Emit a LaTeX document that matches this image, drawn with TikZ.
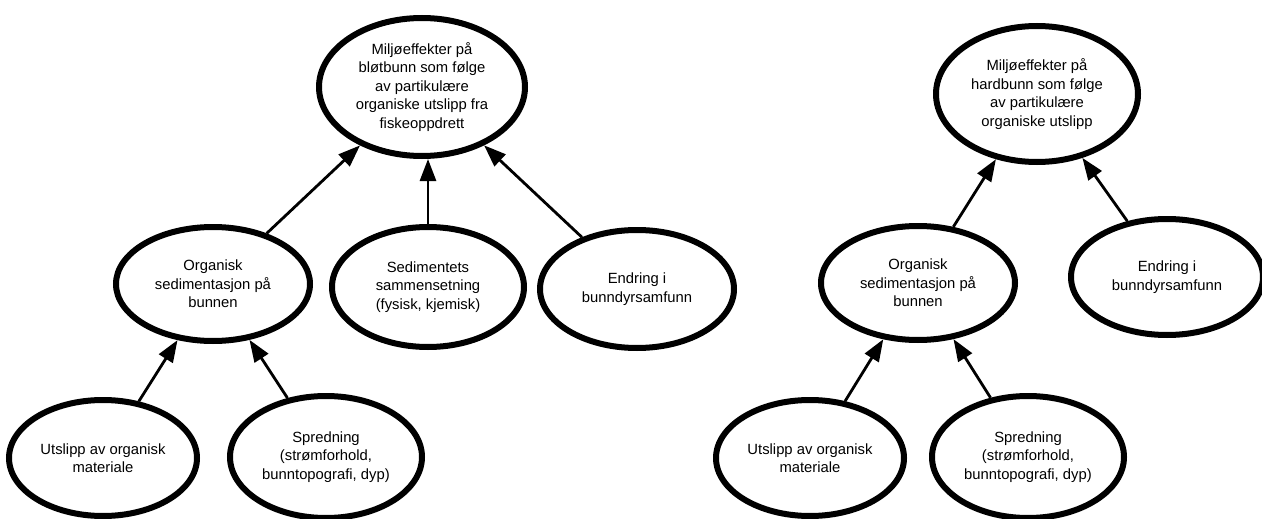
\documentclass[tikz,border=0pt]{standalone}
\usepackage{fontspec}
\setmainfont{Liberation Sans}
\usetikzlibrary{shapes.geometric,arrows.meta}

\begin{document}
\begin{tikzpicture}[x=1pt,y=-1pt,
 every node/.style={font=\fontsize{14.8}{18.5}\selectfont,align=center},
 boble/.style={ellipse,draw,line width=6pt,inner sep=0pt},
 pil/.style={line width=2.8pt,-{Triangle[length=22pt,width=16pt]}}]
 \useasboundingbox (0,0) rectangle (1262,519);
 % bloetbunn
 \node[boble,minimum width=206pt,minimum height=138pt] (bloet) at (422,87)
  {Miljøeffekter på\\bløtbunn som følge\\av partikulære\\organiske utslipp fra\\fiskeoppdrett};
 \node[boble,minimum width=194pt,minimum height=114pt] (orgL) at (213,284)
  {Organisk\\sedimentasjon på\\bunnen};
 \node[boble,minimum width=192pt,minimum height=120pt] (sed) at (428,287)
  {Sedimentets\\sammensetning\\(fysisk, kjemisk)};
 \node[boble,minimum width=194pt,minimum height=118pt] (endL) at (637,289)
  {Endring i\\bunndyrsamfunn};
 \node[boble,minimum width=188pt,minimum height=116pt] (utsL) at (103,458)
  {Utslipp av organisk\\materiale};
 \node[boble,minimum width=192pt,minimum height=122pt] (sprL) at (326,457)
  {Spredning\\(strømforhold,\\bunntopografi, dyp)};
 % hardbunn
 \node[boble,minimum width=202pt,minimum height=136pt] (hard) at (1037,94)
  {Miljøeffekter på\\hardbunn som følge\\av partikulære\\organiske utslipp};
 \node[boble,minimum width=194pt,minimum height=114pt] (orgR) at (918,283)
  {Organisk\\sedimentasjon på\\bunnen};
 \node[boble,minimum width=192pt,minimum height=116pt] (endR) at (1167,277)
  {Endring i\\bunndyrsamfunn};
 \node[boble,minimum width=188pt,minimum height=116pt] (utsR) at (810,458)
  {Utslipp av organisk\\materiale};
 \node[boble,minimum width=192pt,minimum height=122pt] (sprR) at (1028,457)
  {Spredning\\(strømforhold,\\bunntopografi, dyp)};
 \foreach \a/\b in {orgL/bloet,endL/bloet,utsL/orgL,sprL/orgL,
                    orgR/hard,endR/hard,utsR/orgR,sprR/orgR}{\draw[pil] (\a)--(\b);}
 \draw[pil] (sed.north) -- (sed.north |- bloet.south);
\end{tikzpicture}
\end{document}
